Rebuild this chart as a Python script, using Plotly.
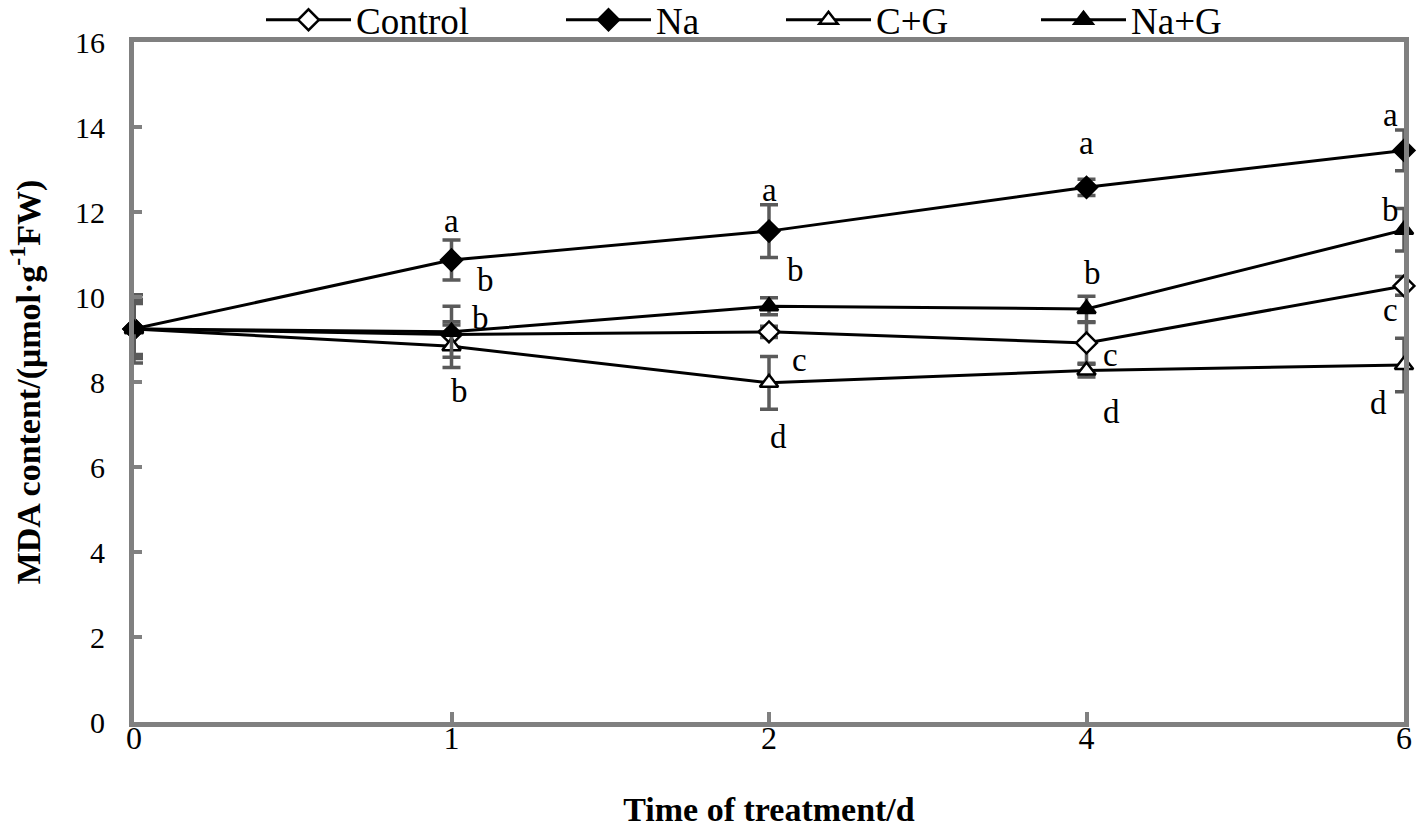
import plotly.graph_objects as go

# ---- data ----
days = ["0", "1", "2", "4", "6"]
series_names = ["Control", "Na", "C+G", "Na+G"]
control = [9.25, 9.12, 9.18, 8.92, 10.26]
control_err = [0.60, 0.30, 0.13, 0.48, 0.22]
na = [9.25, 10.87, 11.55, 12.58, 13.45]
na_err = [0.70, 0.47, 0.62, 0.19, 0.48]
cg = [9.25, 8.84, 7.98, 8.27, 8.40]
cg_err = [0.65, 0.50, 0.62, 0.15, 0.63]
nag = [9.25, 9.18, 9.78, 9.72, 11.58]
nag_err = [0.80, 0.60, 0.20, 0.30, 0.50]

y_ticks = [0, 2, 4, 6, 8, 10, 12, 14, 16]

# significance letters: (day index, letter, y position, x shift in px)
letter_day = [1, 1, 1, 1, 2, 2, 2, 2, 3, 3, 3, 3, 4, 4, 4, 4]
letter_txt = ["a", "b", "b", "b", "a", "b", "c", "d", "a", "b", "c", "d", "a", "b", "c", "d"]
letter_y = [11.8, 10.4, 9.5, 7.8, 12.52, 10.64, 8.52, 6.71,
            13.62, 10.56, 8.64, 7.29, 14.28, 12.05, 9.69, 7.51]
letter_dx = [0, 34, 29, 8, 0, 26, 30, 9, 0, 6, 24, 25, -14, -14, -14, -26]

legend_widths = [200, 120, 155, 100]

x_idx = list(range(len(days)))
FONT = "Liberation Serif"
GRAY = "#808080"
ERR = "#5a5a5a"

fig = go.Figure()

styles = [
    (control, control_err, "diamond", "white"),
    (na, na_err, "diamond", "black"),
    (cg, cg_err, "triangle-up", "white"),
    (nag, nag_err, "triangle-up", "black"),
]
for name, (vals, errs, sym, fill), lw in zip(series_names, styles, legend_widths):
    fig.add_trace(go.Scatter(
        x=x_idx, y=vals, name=name, mode="lines+markers",
        line=dict(color="black", width=3),
        marker=dict(symbol=sym, size=16, color=fill,
                    line=dict(color="black", width=2.5)),
        error_y=dict(type="data", array=errs, visible=True,
                     color=ERR, thickness=3.5, width=9),
        cliponaxis=False,
        legendwidth=lw,
    ))

for d, t, yv, dx in zip(letter_day, letter_txt, letter_y, letter_dx):
    fig.add_annotation(x=d, y=yv, text=t, showarrow=False, xshift=dx,
                       font=dict(family=FONT, size=33, color="black"))

fig.update_layout(
    width=1418, height=828,
    margin=dict(l=134, r=14, t=42, b=106, autoexpand=False),
    paper_bgcolor="white", plot_bgcolor="white",
    font=dict(family=FONT, color="black"),
    showlegend=True,
    legend=dict(orientation="h", x=0.1, xanchor="left", y=1.032, yanchor="middle",
                font=dict(family=FONT, size=37), itemwidth=85,
                bgcolor="rgba(0,0,0,0)"),
    xaxis=dict(
        range=[0, 4], tickmode="array", tickvals=x_idx, ticktext=days,
        showline=True, linecolor=GRAY, linewidth=5, mirror=True,
        ticks="inside", ticklen=10, tickwidth=4, tickcolor=GRAY,
        showgrid=False, zeroline=False,
        tickfont=dict(family=FONT, size=32), ticklabelstandoff=-16,
        title=dict(text="<b>Time of treatment/d</b>", font=dict(family=FONT, size=34),
                   standoff=46),
    ),
    yaxis=dict(
        range=[0, 16], tickmode="array", tickvals=y_ticks,
        showline=True, linecolor=GRAY, linewidth=5, mirror=True,
        ticks="inside", ticklen=8, tickwidth=4, tickcolor=GRAY,
        showgrid=False, zeroline=False,
        tickfont=dict(family=FONT, size=30), ticklabelstandoff=18,
        title=dict(text="<b>MDA content/(μmol·g<sup>-1</sup>FW)</b>",
                   font=dict(family=FONT, size=34), standoff=26),
    ),
)

fig.write_html("out.html", config={"displayModeBar": False},
               post_script="document.body.style.margin='0';")
